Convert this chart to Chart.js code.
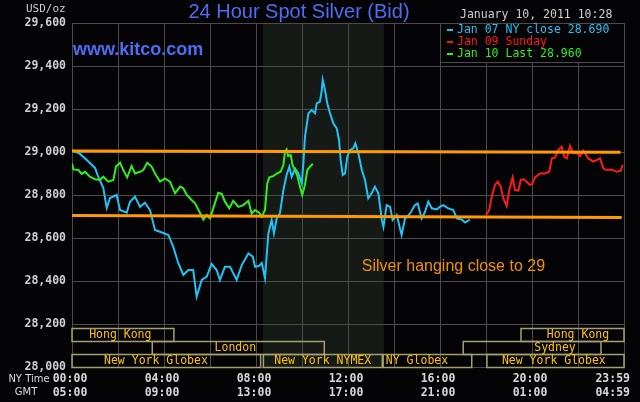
<!DOCTYPE html>
<html>
<head>
<meta charset="utf-8">
<script src="https://cdn.jsdelivr.net/npm/chart.js@4.4.0/dist/chart.umd.min.js"></script>
<style>
  html, body { margin: 0; padding: 0; background: #040406; overflow: hidden; }
  canvas { display: block; }
</style>
</head>
<body>
<canvas id="chart" width="640" height="402"></canvas>
<script>
// hours are NY time, 0 = 00:00, 24 = 23:59
var jan07Hours = [0, 0.35, 0.64, 1.0, 1.14, 1.36, 1.51, 1.65, 1.94, 2.09, 2.38, 2.52, 2.74, 2.96, 3.17, 3.39, 3.61, 3.97, 4.19, 4.4, 4.62, 4.84, 5.06, 5.27, 5.42, 5.64, 5.86, 6.07, 6.29, 6.43, 6.65, 6.87, 7.16, 7.38, 7.67, 7.86, 7.96, 8.14, 8.25, 8.39, 8.54, 8.68, 8.78, 8.9, 9.04, 9.19, 9.33, 9.45, 9.55, 9.7, 9.84, 9.99, 10.06, 10.13, 10.28, 10.42, 10.57, 10.64, 10.78, 10.86, 10.9, 11.0, 11.1, 11.22, 11.36, 11.51, 11.61, 11.68, 11.77, 11.87, 11.97, 12.09, 12.23, 12.32, 12.45, 12.6, 12.74, 12.88, 13.03, 13.17, 13.32, 13.47, 13.54, 13.68, 13.83, 13.94, 14.12, 14.33, 14.48, 14.7, 14.91, 15.03, 15.2, 15.35, 15.49, 15.64, 15.86, 16.0, 16.14, 16.36, 16.58, 16.73, 16.94, 17.09, 17.3];
var jan07Prices = [29009, 28991, 28963, 28926, 28885, 28833, 28740, 28786, 28800, 28730, 28718, 28769, 28792, 28745, 28764, 28730, 28637, 28623, 28614, 28560, 28484, 28428, 28451, 28451, 28327, 28405, 28420, 28479, 28451, 28405, 28466, 28466, 28405, 28474, 28528, 28513, 28466, 28470, 28484, 28414, 28622, 28684, 28622, 28691, 28714, 28823, 28893, 28932, 28885, 28923, 28900, 28854, 28947, 29071, 29180, 29195, 29180, 29226, 29234, 29288, 29335, 29288, 29226, 29180, 29133, 29110, 29056, 28963, 28893, 28900, 28978, 29009, 29017, 29040, 28994, 28916, 28870, 28785, 28808, 28839, 28808, 28684, 28652, 28753, 28745, 28684, 28707, 28614, 28691, 28714, 28753, 28760, 28691, 28722, 28769, 28738, 28733, 28745, 28753, 28738, 28730, 28691, 28686, 28672, 28686];

var jan09Hours = [18.0, 18.14, 18.25, 18.39, 18.51, 18.64, 18.75, 18.9, 19.01, 19.16, 19.26, 19.41, 19.51, 19.65, 19.77, 19.91, 20.01, 20.13, 20.35, 20.57, 20.75, 20.86, 21.0, 21.14, 21.29, 21.4, 21.51, 21.65, 21.8, 21.94, 22.09, 22.23, 22.45, 22.67, 22.96, 23.1, 23.25, 23.47, 23.68, 23.86, 23.94];
var jan09Prices = [28707, 28730, 28792, 28847, 28862, 28839, 28785, 28749, 28823, 28882, 28823, 28820, 28870, 28873, 28862, 28847, 28851, 28882, 28900, 28900, 28908, 28970, 28975, 29009, 29025, 28978, 28970, 29028, 28994, 28997, 28981, 29006, 28970, 28955, 28970, 28923, 28916, 28919, 28908, 28913, 28940];

var jan10Hours = [0, 0.06, 0.28, 0.42, 0.57, 0.78, 1.0, 1.22, 1.36, 1.58, 1.8, 1.91, 2.09, 2.23, 2.4, 2.59, 2.74, 2.96, 3.1, 3.27, 3.46, 3.61, 3.83, 4.04, 4.26, 4.48, 4.7, 4.84, 4.99, 5.2, 5.35, 5.54, 5.71, 5.86, 6.0, 6.14, 6.36, 6.51, 6.65, 6.84, 7.01, 7.23, 7.45, 7.67, 7.81, 7.96, 8.14, 8.25, 8.39, 8.49, 8.58, 8.75, 8.9, 9.07, 9.19, 9.26, 9.33, 9.4, 9.51, 9.59, 9.7, 9.8, 9.91, 10.01, 10.13, 10.23, 10.35, 10.47];
var jan10Prices = [28947, 28919, 28916, 28898, 28908, 28885, 28873, 28870, 28885, 28862, 28870, 28932, 28950, 28916, 28882, 28935, 28900, 28908, 28916, 28950, 28932, 28900, 28862, 28877, 28862, 28808, 28839, 28831, 28800, 28777, 28761, 28722, 28686, 28707, 28691, 28738, 28810, 28805, 28769, 28738, 28773, 28745, 28753, 28773, 28714, 28730, 28718, 28699, 28730, 28854, 28882, 28888, 28900, 28908, 28939, 29001, 29012, 28981, 28986, 28939, 28916, 28888, 28839, 28800, 28847, 28916, 28932, 28945];

// hand drawn orange support / resistance lines
var upperLineHours = [0, 23.85];
var upperLinePrices = [29005, 28999];
var lowerLineHours = [0, 23.9];
var lowerLinePrices = [28705, 28695];

var seriesLabels = ['Jan 07 NY close 28.690', 'Jan 09 Sunday', 'Jan 10 Last 28.960'];

// trading sessions: row 0 = top strip, row 2 = bottom strip
var sessionNames = ['Hong Kong', 'Hong Kong', 'London', 'Sydney', 'New York Globex', 'New York NYMEX', 'NY Globex', 'New York Globex'];
var sessionStart = [0, 19.52, 3.49, 17.01, 0, 8.32, 13.53, 18.04];
var sessionEnd = [4.43, 24, 10.97, 23.0, 8.2, 13.49, 17.38, 24];
var sessionRow = [0, 0, 1, 1, 2, 2, 2, 2];
var sessionLabelAt = [2.1, 22.0, 7.1, 21.0, 3.65, 10.9, 15.0, 20.95];

var comexHours = [8.3, 13.56];

var nyTimeLabels = ['00:00', '04:00', '08:00', '12:00', '16:00', '20:00', '23:59'];
var gmtLabels = ['05:00', '09:00', '13:00', '17:00', '21:00', '01:00', '04:59'];
var labelHours = [0, 4, 8, 12, 16, 20, 24];

var MONO = '"DejaVu Sans Mono", "Liberation Mono", monospace';
var SANS = '"Liberation Sans", Arial, sans-serif';
var BLUE = '#4d6df2';
var GRID = '#4b4b4b';
var seriesColors = ['#1fc3f5', '#ff1a1a', '#2ef01a'];

function points(hours, prices) {
  return hours.map(function (h, i) { return { x: h, y: prices[i] }; });
}

var kitcoDecor = {
  id: 'kitcoDecor',
  beforeDraw: function (chart) {
    var ctx = chart.ctx, a = chart.chartArea, x = chart.scales.x;
    ctx.save();
    ctx.fillStyle = '#040406';
    ctx.fillRect(0, 0, chart.width, chart.height);
    var x0 = x.getPixelForValue(comexHours[0]);
    var x1 = x.getPixelForValue(comexHours[1]);
    ctx.fillStyle = '#161a17';
    ctx.fillRect(x0, a.top, x1 - x0, a.bottom - a.top);
    ctx.restore();
  },
  afterDatasetsDraw: function (chart) {
    var ctx = chart.ctx, a = chart.chartArea, x = chart.scales.x;
    ctx.save();

    // session strips
    var rowH = 13;
    ctx.lineWidth = 1.5;
    ctx.strokeStyle = '#a39f70';
    ctx.font = '11.5px ' + MONO;
    ctx.textAlign = 'center';
    ctx.textBaseline = 'middle';
    for (var i = 0; i < sessionNames.length; i++) {
      var top = a.bottom - rowH * (3 - sessionRow[i]);
      var l = x.getPixelForValue(sessionStart[i]);
      var r = x.getPixelForValue(sessionEnd[i]);
      ctx.strokeRect(l, top + 0.5, r - l, rowH);
      ctx.fillStyle = '#ffc400';
      ctx.fillText(sessionNames[i], x.getPixelForValue(sessionLabelAt[i]), top + rowH / 2 + 1);
    }

    // legend box
    var lx = x.getPixelForValue(16);
    ctx.fillStyle = '#040406';
    ctx.fillRect(lx, a.top, a.right - lx, 39);
    ctx.lineWidth = 1;
    ctx.strokeStyle = GRID;
    ctx.strokeRect(lx + 0.5, a.top + 0.5, a.right - lx, 39);
    ctx.textAlign = 'left';
    for (var j = 0; j < seriesLabels.length; j++) {
      var cy = a.top + 7 + j * 12;
      ctx.fillStyle = seriesColors[j];
      ctx.fillRect(lx + 7, cy - 1, 6, 2);
      ctx.fillText(seriesLabels[j], lx + 17, cy);
    }
    ctx.restore();
  },
  afterDraw: function (chart) {
    var ctx = chart.ctx, x = chart.scales.x, y = chart.scales.y;
    ctx.save();

    ctx.fillStyle = BLUE;
    ctx.font = '20px ' + SANS;
    ctx.textAlign = 'center';
    ctx.textBaseline = 'alphabetic';
    ctx.fillText('24 Hour Spot Silver (Bid)', 299, 18);

    ctx.font = 'bold 18px ' + SANS;
    ctx.textAlign = 'left';
    ctx.fillText('www.kitco.com', 73, 55);

    ctx.fillStyle = '#cfcfcf';
    ctx.font = '11.5px ' + MONO;
    ctx.fillText('January 10, 2011 10:28', 460, 18);
    ctx.textBaseline = 'middle';
    ctx.font = '11px ' + MONO;
    ctx.fillText('USD/oz', 26, 9);

    // annotation
    ctx.fillStyle = '#f39200';
    ctx.font = '16px ' + SANS;
    ctx.textBaseline = 'alphabetic';
    ctx.fillText('Silver hanging close to 29', x.getPixelForValue(12.6), y.getPixelForValue(28446));

    // x axis labels, two clocks
    ctx.fillStyle = '#dddddd';
    ctx.font = '10px "DejaVu Sans", sans-serif';
    ctx.textAlign = 'center';
    ctx.textBaseline = 'middle';
    ctx.fillText('NY Time', 29, 379);
    ctx.fillText('GMT', 26, 392);

    ctx.fillStyle = '#d8d8d8';
    ctx.font = 'bold 11.5px ' + MONO;
    for (var i = 0; i < labelHours.length; i++) {
      var px = x.getPixelForValue(labelHours[i]) - 2;
      var w = ctx.measureText(nyTimeLabels[i]).width;
      px = Math.min(px, chart.width - 10 - w / 2);
      ctx.fillText(nyTimeLabels[i], px, 379);
      ctx.fillText(gmtLabels[i], px, 393);
    }
    ctx.restore();
  }
};

var ctx = document.getElementById('chart').getContext('2d');
var chart = new Chart(ctx, {
  type: 'line',
  data: {
    datasets: [
      { data: points(upperLineHours, upperLinePrices), borderColor: '#ff9a00', borderWidth: 3 },
      { data: points(lowerLineHours, lowerLinePrices), borderColor: '#ff9a00', borderWidth: 3 },
      { label: seriesLabels[2], data: points(jan10Hours, jan10Prices), borderColor: seriesColors[2], borderWidth: 2 },
      { label: seriesLabels[1], data: points(jan09Hours, jan09Prices), borderColor: seriesColors[1], borderWidth: 2 },
      { label: seriesLabels[0], data: points(jan07Hours, jan07Prices), borderColor: seriesColors[0], borderWidth: 2 }
    ]
  },
  options: {
    responsive: false,
    animation: false,
    events: [],
    layout: { padding: { left: 0, right: 16, top: 23, bottom: 0 } },
    elements: {
      point: { radius: 0 },
      line: { tension: 0, fill: false }
    },
    plugins: {
      legend: { display: false },
      tooltip: { enabled: false }
    },
    scales: {
      x: {
        type: 'linear',
        min: 0,
        max: 24,
        ticks: { display: false, stepSize: 2 },
        grid: { color: GRID, drawTicks: false },
        border: { color: GRID },
        afterFit: function (s) { s.height = 35; }
      },
      y: {
        min: 28000,
        max: 29600,
        ticks: {
          stepSize: 200,
          padding: 6,
          color: '#d0d0d0',
          font: { family: MONO, size: 11.5, weight: 'bold' },
          callback: function (v) { return v.toLocaleString('en-US'); }
        },
        grid: { color: GRID, drawTicks: false },
        border: { color: GRID },
        afterFit: function (s) { s.width = 72; }
      }
    }
  },
  plugins: [kitcoDecor]
});
</script>
</body>
</html>
